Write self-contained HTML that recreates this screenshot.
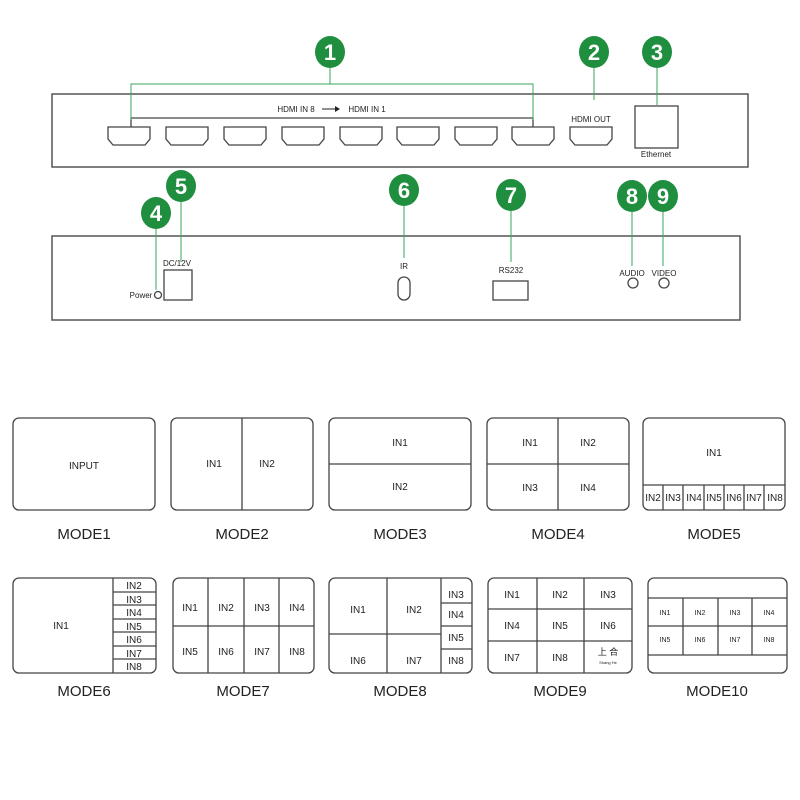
<!DOCTYPE html>
<html><head><style>body{margin:0;background:#fff}svg{display:block}text{font-family:"Liberation Sans","Noto Sans CJK SC",sans-serif;fill:#222}</style></head>
<body>
<svg width="800" height="800" viewBox="0 0 800 800" xmlns="http://www.w3.org/2000/svg">
<g fill="none" stroke="#555" stroke-width="1.5">
<rect x="52" y="94" width="696" height="73"/>
<rect x="52" y="236" width="688" height="84"/>
</g>
<g fill="none" stroke="#444" stroke-width="1.3">
<path d="M108,127h42v12l-5,6h-32l-5,-6z"/>
<path d="M166,127h42v12l-5,6h-32l-5,-6z"/>
<path d="M224,127h42v12l-5,6h-32l-5,-6z"/>
<path d="M282,127h42v12l-5,6h-32l-5,-6z"/>
<path d="M340,127h42v12l-5,6h-32l-5,-6z"/>
<path d="M397,127h42v12l-5,6h-32l-5,-6z"/>
<path d="M455,127h42v12l-5,6h-32l-5,-6z"/>
<path d="M512,127h42v12l-5,6h-32l-5,-6z"/>
<path d="M570,127h42v12l-5,6h-32l-5,-6z"/>
<rect x="635" y="106" width="43" height="42"/>
<line x1="131" y1="118" x2="533" y2="118"/>
<line x1="131" y1="118" x2="131" y2="127"/>
<line x1="533" y1="118" x2="533" y2="127"/>
<rect x="164" y="270" width="28" height="30"/>
<rect x="398" y="277" width="12" height="23" rx="6"/>
<rect x="493" y="281" width="35" height="19"/>
<circle cx="158" cy="295" r="3.5"/>
<circle cx="633" cy="283" r="5"/>
<circle cx="664" cy="283" r="5"/>
</g>
<g fill="none" stroke="#3aa55a" stroke-width="1">
<polyline points="131,120 131,84 533,84 533,120"/>
<line x1="330" y1="66" x2="330" y2="84"/>
<line x1="594" y1="66" x2="594" y2="100"/>
<line x1="657" y1="66" x2="657" y2="105"/>
<line x1="156" y1="227" x2="156" y2="290"/>
<line x1="181" y1="200" x2="181" y2="262"/>
<line x1="404" y1="204" x2="404" y2="258"/>
<line x1="511" y1="209" x2="511" y2="262"/>
<line x1="632" y1="210" x2="632" y2="266"/>
<line x1="663" y1="210" x2="663" y2="266"/>
</g>
<g fill="#1f8f3f">
<ellipse cx="330" cy="52" rx="15" ry="16"/>
<ellipse cx="594" cy="52" rx="15" ry="16"/>
<ellipse cx="657" cy="52" rx="15" ry="16"/>
<ellipse cx="156" cy="213" rx="15" ry="16"/>
<ellipse cx="181" cy="186" rx="15" ry="16"/>
<ellipse cx="404" cy="190" rx="15" ry="16"/>
<ellipse cx="511" cy="195" rx="15" ry="16"/>
<ellipse cx="632" cy="196" rx="15" ry="16"/>
<ellipse cx="663" cy="196" rx="15" ry="16"/>
</g>
<g font-size="22" font-weight="bold" text-anchor="middle" style="fill:#fff">
<text x="330" y="60" style="fill:#fff">1</text><text x="594" y="60" style="fill:#fff">2</text><text x="657" y="60" style="fill:#fff">3</text>
<text x="156" y="221" style="fill:#fff">4</text><text x="181" y="194" style="fill:#fff">5</text><text x="404" y="198" style="fill:#fff">6</text>
<text x="511" y="203" style="fill:#fff">7</text><text x="632" y="204" style="fill:#fff">8</text><text x="663" y="204" style="fill:#fff">9</text>
</g>
<g font-size="8" text-anchor="middle">
<text x="296" y="112">HDMI IN 8</text><text x="367" y="112">HDMI IN 1</text>
<text x="591" y="122">HDMI OUT</text><text x="656" y="157">Ethernet</text>
<text x="177" y="266">DC/12V</text><text x="141" y="298">Power</text>
<text x="404" y="269">IR</text><text x="511" y="273">RS232</text>
<text x="632" y="276">AUDIO</text><text x="664" y="276">VIDEO</text>
</g>
<line x1="322" y1="109" x2="336" y2="109" stroke="#222"/><path d="M335,106l5,3l-5,3z" fill="#222"/>
<g fill="none" stroke="#444" stroke-width="1.3">
<rect x="13" y="418" width="142" height="92" rx="6"/>
<rect x="171" y="418" width="142" height="92" rx="6"/><line x1="242" y1="418" x2="242" y2="510"/>
<rect x="329" y="418" width="142" height="92" rx="6"/><line x1="329" y1="464" x2="471" y2="464"/>
<rect x="487" y="418" width="142" height="92" rx="6"/><line x1="558" y1="418" x2="558" y2="510"/><line x1="487" y1="464" x2="629" y2="464"/>
<rect x="643" y="418" width="142" height="92" rx="6"/><line x1="643" y1="485" x2="785" y2="485"/>
<path d="M663,485v25M683,485v25M704,485v25M724,485v25M744,485v25M764,485v25"/>
<rect x="13" y="578" width="143" height="95" rx="6"/><line x1="113" y1="578" x2="113" y2="673"/>
<path d="M113,592h43M113,605h43M113,619h43M113,632h43M113,646h43M113,659h43"/>
<rect x="173" y="578" width="141" height="95" rx="6"/><path d="M173,626h141M208,578v95M244,578v95M279,578v95"/>
<rect x="329" y="578" width="143" height="95" rx="6"/><path d="M329,634h112M387,578v95M441,578v95M441,603h31M441,626h31M441,649h31"/>
<rect x="488" y="578" width="144" height="95" rx="6"/><path d="M488,609h144M488,641h144M537,578v95M584,578v95"/>
<rect x="648" y="578" width="139" height="95" rx="6"/><path d="M648,598h139M648,655h139M648,626h139M683,598v57M718,598v57M752,598v57"/>
</g>
<g font-size="10" text-anchor="middle">
<text x="84" y="469">INPUT</text>
<text x="214" y="467">IN1</text><text x="267" y="467">IN2</text>
<text x="400" y="446">IN1</text><text x="400" y="490">IN2</text>
<text x="530" y="446">IN1</text><text x="588" y="446">IN2</text><text x="530" y="491">IN3</text><text x="588" y="491">IN4</text>
<text x="714" y="456">IN1</text>
<text x="653" y="501">IN2</text><text x="673" y="501">IN3</text><text x="694" y="501">IN4</text><text x="714" y="501">IN5</text><text x="734" y="501">IN6</text><text x="754" y="501">IN7</text><text x="775" y="501">IN8</text>
<text x="61" y="629">IN1</text>
<text x="134" y="589">IN2</text><text x="134" y="603">IN3</text><text x="134" y="616">IN4</text><text x="134" y="630">IN5</text><text x="134" y="643">IN6</text><text x="134" y="657">IN7</text><text x="134" y="670">IN8</text>
<text x="190" y="611">IN1</text><text x="226" y="611">IN2</text><text x="262" y="611">IN3</text><text x="297" y="611">IN4</text>
<text x="190" y="655">IN5</text><text x="226" y="655">IN6</text><text x="262" y="655">IN7</text><text x="297" y="655">IN8</text>
<text x="358" y="613">IN1</text><text x="414" y="613">IN2</text><text x="358" y="664">IN6</text><text x="414" y="664">IN7</text>
<text x="456" y="598">IN3</text><text x="456" y="618">IN4</text><text x="456" y="641">IN5</text><text x="456" y="664">IN8</text>
<text x="512" y="598">IN1</text><text x="560" y="598">IN2</text><text x="608" y="598">IN3</text>
<text x="512" y="629">IN4</text><text x="560" y="629">IN5</text><text x="608" y="629">IN6</text>
<text x="512" y="661">IN7</text><text x="560" y="661">IN8</text><text x="608" y="655" font-size="9">上 合</text><text x="608" y="664" font-size="4">Shang He</text>
</g>
<g font-size="7" text-anchor="middle">
<text x="665" y="615">IN1</text><text x="700" y="615">IN2</text><text x="735" y="615">IN3</text><text x="769" y="615">IN4</text>
<text x="665" y="642">IN5</text><text x="700" y="642">IN6</text><text x="735" y="642">IN7</text><text x="769" y="642">IN8</text>
</g>
<g font-size="15" text-anchor="middle">
<text x="84" y="539">MODE1</text><text x="242" y="539">MODE2</text><text x="400" y="539">MODE3</text><text x="558" y="539">MODE4</text><text x="714" y="539">MODE5</text>
<text x="84" y="696">MODE6</text><text x="243" y="696">MODE7</text><text x="400" y="696">MODE8</text><text x="560" y="696">MODE9</text><text x="717" y="696">MODE10</text>
</g>
</svg>
</body></html>
